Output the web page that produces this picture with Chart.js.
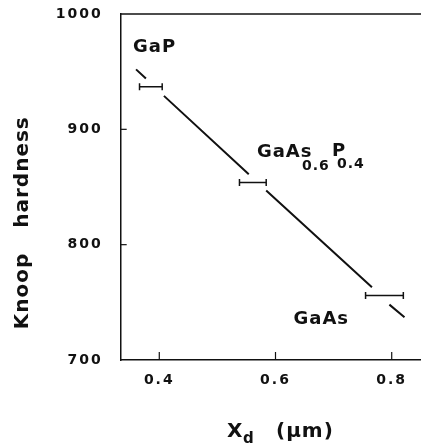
<!DOCTYPE html>
<html>
<head>
<meta charset="utf-8">
<script src="https://cdn.jsdelivr.net/npm/chart.js@4"></script>
<style>
  html, body { margin: 0; padding: 0; background: #fff; }
  #wrap { width: 421px; height: 445px; }
</style>
</head>
<body>
<div id="wrap"><canvas id="grafico"></canvas></div>
<script>
// Knoop hardness vs X_d

// fitted line (null = gap around the bars)
const lineX = [0.360, 0.377, null, 0.408, 0.554, null, 0.584, 0.766, null, 0.796, 0.822];
const lineY = [952, 944, null, 929, 861, null, 847, 763, null, 748, 737];

// measured points with horizontal error bars
const barX = [0.3855, 0.561, 0.7875];
const barY = [937, 854, 756];
const barHalf = [0.0195, 0.023, 0.0325];

const xTicks = [0.4, 0.6, 0.8];
const yTicks = [700, 800, 900, 1000];

const ink = "#111";

const lineData = lineX.map((x, i) => ({ x: x, y: lineY[i] }));
const barData = [];
barX.forEach((x, i) => {
    barData.push({ x: x - barHalf[i], y: barY[i] });
    barData.push({ x: x + barHalf[i], y: barY[i] });
    barData.push({ x: x, y: null });
});

// labels sit at data positions (left edge, baseline)
const notes = [
    { text: "GaP", x: 0.3547, y: 967 },
    { text: "GaAs", x: 0.568, y: 876, sub: "0.6", tail: "P", tailSub: "0.4" },
    { text: "GaAs", x: 0.631, y: 731 }
];

function noPad(s) {
    s.paddingLeft = 0;
    s.paddingRight = 0;
    s.paddingTop = 0;
    s.paddingBottom = 0;
}

const paper = {
    id: "paper",
    beforeDraw(chart) {
        chart.ctx.letterSpacing = "2px";
    },
    afterDraw(chart) {
        const ctx = chart.ctx;
        const a = chart.chartArea;
        const sx = chart.scales.x;
        const sy = chart.scales.y;
        ctx.save();
        ctx.letterSpacing = "0px";
        ctx.strokeStyle = ink;
        ctx.fillStyle = ink;
        ctx.lineWidth = 1.5;

        // top frame line
        ctx.beginPath();
        ctx.moveTo(a.left, a.top);
        ctx.lineTo(a.right, a.top);
        ctx.stroke();

        // inward ticks
        ctx.lineWidth = 1.2;
        xTicks.forEach(v => {
            const px = sx.getPixelForValue(v);
            ctx.beginPath();
            ctx.moveTo(px, a.bottom);
            ctx.lineTo(px, a.bottom - 8);
            ctx.stroke();
        });
        yTicks.slice(1, 3).forEach(v => {
            const py = sy.getPixelForValue(v);
            ctx.beginPath();
            ctx.moveTo(a.left, py);
            ctx.lineTo(a.left + 6, py);
            ctx.stroke();
        });

        // compound labels
        ctx.textBaseline = "alphabetic";
        ctx.textAlign = "left";
        notes.forEach(n => {
            const px = sx.getPixelForValue(n.x);
            const py = sy.getPixelForValue(n.y);
            ctx.font = "bold 18px 'DejaVu Sans'";
            ctx.letterSpacing = "1px";
            ctx.fillText(n.text, px, py);
            if (n.sub) {
                ctx.font = "bold 14px 'DejaVu Sans'";
                ctx.fillText(n.sub, px + 45, py + 13);
                ctx.font = "bold 18px 'DejaVu Sans'";
                ctx.fillText(n.tail, px + 75, py - 1);
                ctx.font = "bold 14px 'DejaVu Sans'";
                ctx.fillText(n.tailSub, px + 80, py + 11);
            }
        });

        // axis titles
        ctx.letterSpacing = "1px";
        ctx.font = "bold 20px 'DejaVu Sans'";
        ctx.fillText("X", 227, 437);
        ctx.font = "bold 15px 'DejaVu Sans'";
        ctx.fillText("d", 243, 443);
        ctx.font = "bold 20px 'DejaVu Sans'";
        ctx.fillText("(\u03bcm)", 276, 437);

        ctx.translate(23, 0);
        ctx.rotate(-Math.PI / 2);
        ctx.textAlign = "center";
        ctx.textBaseline = "middle";
        ctx.font = "bold 20px 'DejaVu Sans'";
        ctx.fillText("Knoop", -291, 0);
        ctx.fillText("hardness", -172, 0);
        ctx.restore();
    }
};

Chart.defaults.font.family = "'DejaVu Sans'";
Chart.defaults.color = ink;

new Chart(document.getElementById("grafico"), {
    type: "scatter",
    data: {
        datasets: [{
            data: lineData,
            showLine: true,
            spanGaps: false,
            borderColor: ink,
            borderWidth: 2,
            pointRadius: 0
        }, {
            data: barData,
            showLine: true,
            spanGaps: false,
            borderColor: ink,
            borderWidth: 1.5,
            pointStyle: "line",
            rotation: 90,
            pointRadius: 3.5,
            pointBorderWidth: 1.5,
            pointBorderColor: ink
        }]
    },
    options: {
        responsive: true,
        maintainAspectRatio: false,
        animation: false,
        layout: {
            autoPadding: false,
            padding: { left: 0, top: 14, right: 0, bottom: 0 }
        },
        plugins: {
            legend: { display: false },
            tooltip: { enabled: false }
        },
        scales: {
            x: {
                type: "linear",
                min: 0.3336,
                max: 0.8504,
                afterBuildTicks: s => { s.ticks = xTicks.map(v => ({ value: v })); },
                afterFit: s => { s.height = 85; noPad(s); },
                ticks: {
                    padding: 12,
                    font: { size: 14, weight: "bold" },
                    callback: v => v.toFixed(1)
                },
                grid: { drawOnChartArea: false, drawTicks: false },
                border: { display: true, color: ink, width: 1.5 }
            },
            y: {
                min: 700,
                max: 1000,
                afterBuildTicks: s => { s.ticks = yTicks.map(v => ({ value: v })); },
                afterFit: s => { s.width = 120.7; noPad(s); },
                ticks: {
                    padding: 18,
                    font: { size: 14, weight: "bold" },
                    callback: v => String(v)
                },
                grid: { drawOnChartArea: false, drawTicks: false },
                border: { display: true, color: ink, width: 1.5 }
            }
        }
    },
    plugins: [paper]
});
</script>
</body>
</html>
